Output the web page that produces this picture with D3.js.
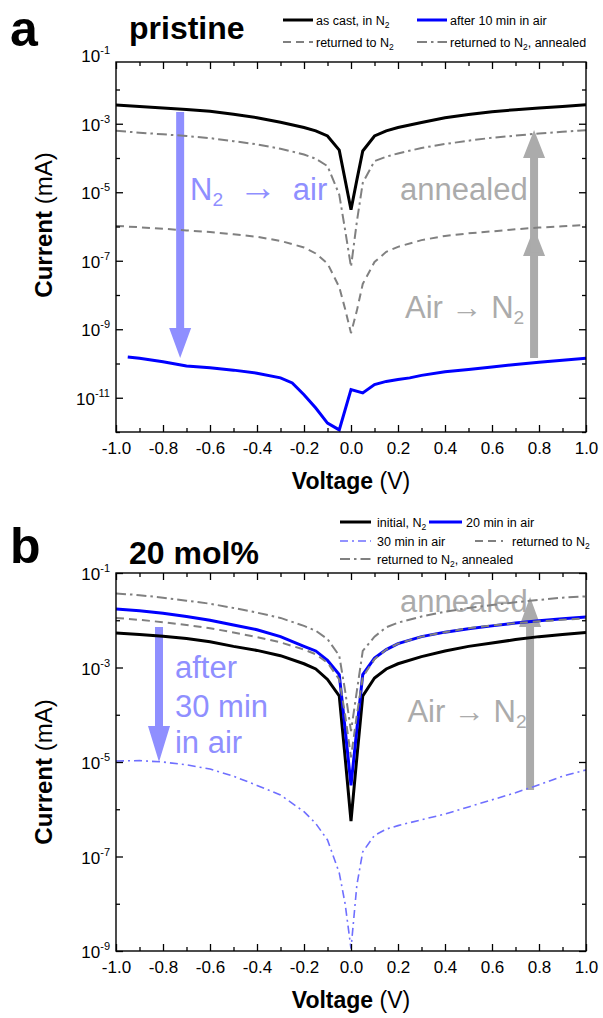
<!DOCTYPE html>
<html>
<head>
<meta charset="utf-8">
<script src="https://cdn.jsdelivr.net/npm/d3@7"></script>
<style>
  body { margin: 0; background: #fff; }
  svg { display: block; }
  text { font-family: "Liberation Sans", Arial, Helvetica, sans-serif; }
</style>
</head>
<body>
<svg id="fig" width="603" height="1018"></svg>
<script>
// ---------- data (current in mA) ----------
// Voltage sweep points shared by most traces (V)
const voltage = [-1, -0.9, -0.8, -0.7, -0.6, -0.5, -0.4, -0.3, -0.2, -0.15, -0.1, -0.05, -0.025, 0,
                 0.025, 0.05, 0.1, 0.15, 0.2, 0.3, 0.4, 0.5, 0.6, 0.7, 0.8, 0.9, 1];

// (a) pristine film
const pristineAsCast = [3.5e-3, 3.2e-3, 2.9e-3, 2.6e-3, 2.3e-3, 1.9e-3, 1.5e-3, 1.1e-3, 7.8e-4, 6.2e-4, 4.4e-4, 1.7e-4, 2.3e-5, 3.1e-6,
                        2.3e-5, 1.6e-4, 4.4e-4, 6.2e-4, 7.8e-4, 1.09e-3, 1.5e-3, 1.87e-3, 2.24e-3, 2.57e-3, 2.88e-3, 3.2e-3, 3.6e-3];
const pristineAirVoltage = [-0.95, -0.9, -0.8, -0.7, -0.6, -0.5, -0.4, -0.3, -0.25, -0.2, -0.15, -0.1, -0.05, 0,
                            0.05, 0.1, 0.15, 0.2, 0.25, 0.3, 0.4, 0.5, 0.6, 0.7, 0.8, 0.9, 1];
const pristineAir10 = [1.55e-10, 1.42e-10, 1.13e-10, 8.4e-11, 7.5e-11, 6.4e-11, 5.2e-11, 3.8e-11, 2.7e-11, 1.23e-11, 5.0e-12, 1.81e-12, 1.15e-12, 1.73e-11,
                       1.38e-11, 2.43e-11, 3.0e-11, 3.4e-11, 3.8e-11, 4.5e-11, 5.7e-11, 6.7e-11, 7.9e-11, 9.4e-11, 1.08e-10, 1.24e-10, 1.42e-10];
const pristineReturned = [1.04e-6, 9.5e-7, 8.6e-7, 7.7e-7, 6.9e-7, 5.9e-7, 5.0e-7, 3.8e-7, 2.44e-7, 1.63e-7, 8.3e-8, 1.7e-8, 3.9e-9, 7.7e-10,
                          3.5e-9, 2.1e-8, 9.2e-8, 1.82e-7, 2.55e-7, 4.0e-7, 5.3e-7, 6.3e-7, 7.2e-7, 8.3e-7, 9.3e-7, 1.01e-6, 1.11e-6];
const pristineAnnealed = [6.2e-4, 5.5e-4, 4.9e-4, 4.4e-4, 3.8e-4, 3.1e-4, 2.5e-4, 1.87e-4, 1.27e-4, 9.5e-5, 5.8e-5, 8.5e-6, 7.9e-7, 6.6e-8,
                          1.39e-6, 1.87e-5, 8.1e-5, 1.09e-4, 1.36e-4, 1.96e-4, 2.56e-4, 3.2e-4, 3.9e-4, 4.5e-4, 5.2e-4, 5.8e-4, 6.5e-4];

// (b) 20 mol% film
const dopedInitial = [5.4e-3, 5.0e-3, 4.6e-3, 4.1e-3, 3.5e-3, 2.8e-3, 2.3e-3, 1.78e-3, 1.2e-3, 9.3e-4, 5.6e-4, 2.5e-4, 1.26e-5, 5.6e-7,
                      1.26e-5, 2.5e-4, 6.0e-4, 9.3e-4, 1.2e-3, 1.7e-3, 2.24e-3, 2.8e-3, 3.3e-3, 3.9e-3, 4.5e-3, 5.0e-3, 5.5e-3];
const dopedAir20 = [1.74e-2, 1.58e-2, 1.41e-2, 1.2e-2, 1.0e-2, 7.9e-3, 6.3e-3, 4.5e-3, 2.8e-3, 2.24e-3, 1.41e-3, 7.1e-4, 5.0e-5, 3.2e-6,
                    5.0e-5, 7.1e-4, 1.58e-3, 2.4e-3, 3.2e-3, 4.5e-3, 5.6e-3, 6.6e-3, 7.6e-3, 8.7e-3, 9.8e-3, 1.07e-2, 1.17e-2];
const dopedAir30 = [1.05e-5, 1.07e-5, 1.0e-5, 8.7e-6, 7.1e-6, 5.0e-6, 3.2e-6, 2.0e-6, 8.9e-7, 5.0e-7, 2.24e-7, 4.5e-8, 1.0e-8, 1.12e-9,
                    2.5e-8, 1.26e-7, 2.8e-7, 3.8e-7, 4.5e-7, 6.0e-7, 7.9e-7, 1.12e-6, 1.58e-6, 2.24e-6, 3.3e-6, 5.0e-6, 6.8e-6];
const dopedReturned = [1.12e-2, 1.02e-2, 9.1e-3, 7.9e-3, 6.8e-3, 5.5e-3, 4.4e-3, 3.4e-3, 2.4e-3, 1.9e-3, 1.26e-3, 5.6e-4, 1.0e-4, 1.26e-5,
                       1.0e-4, 6.3e-4, 1.5e-3, 2.4e-3, 3.2e-3, 4.5e-3, 5.6e-3, 6.8e-3, 7.8e-3, 8.7e-3, 9.5e-3, 1.02e-2, 1.1e-2];
const dopedAnnealed = [3.7e-2, 3.4e-2, 3.0e-2, 2.6e-2, 2.24e-2, 1.82e-2, 1.45e-2, 1.12e-2, 7.6e-3, 6.0e-3, 4.0e-3, 1.78e-3, 3.2e-4, 4.5e-5,
                       3.2e-4, 2.24e-3, 4.5e-3, 7.1e-3, 8.9e-3, 1.2e-2, 1.51e-2, 1.82e-2, 2.1e-2, 2.4e-2, 2.7e-2, 3.0e-2, 3.2e-2];

// Axis ticks
const xMajorTicks = [-1, -0.8, -0.6, -0.4, -0.2, 0, 0.2, 0.4, 0.6, 0.8, 1];
const xMinorTicks = [-0.9, -0.7, -0.5, -0.3, -0.1, 0.1, 0.3, 0.5, 0.7, 0.9];
const yExponentsA = [-12, -11, -10, -9, -8, -7, -6, -5, -4, -3, -2, -1];
const yExponentsB = [-9, -8, -7, -6, -5, -4, -3, -2, -1];

// ---------- styling ----------
const C = {
  black: "#000000",
  blue: "#0000ff",
  gray: "#808080",
  lightBlue: "#6f6fff",
  arrowBlue: "#8f8fff",
  arrowGray: "#ababab"
};
const styles = {
  solidBlack: { stroke: C.black, width: 3, dash: null },
  solidBlue: { stroke: C.blue, width: 3, dash: null },
  dashGray: { stroke: C.gray, width: 2, dash: "8,5" },
  dashDotGray: { stroke: C.gray, width: 2, dash: "10,4,2.5,4" },
  dashDotBlue: { stroke: C.lightBlue, width: 1.6, dash: "8,4,2,4" }
};

const svg = d3.select("#fig");
const FONT = '"Liberation Sans", Arial, Helvetica, sans-serif';
const ARROW = "\u2192";
const EN = "\u2002";

function makePanel(cfg) {
  const g = svg.append("g");
  const x = d3.scaleLinear().domain([-1, 1]).range([cfg.left, cfg.right]);
  const y = d3.scaleLog().domain(cfg.yDomain).range([cfg.bottom, cfg.top]);
  const fmtX = v => { const r = Math.round(v * 10) / 10; return (r === 0 ? 0 : r).toFixed(1); };

  // arrows (under the traces)
  const arrowsG = g.append("g");
  cfg.arrows.forEach(a => {
    const xc = x(a.v), yb = y(a.from), yt = y(a.to);
    const dir = yt < yb ? -1 : 1;
    const sw = a.shaft / 2, hw = a.headW / 2, hl = a.headL;
    const yh = yt - dir * hl;
    const p = d3.path();
    p.moveTo(xc - sw, yb); p.lineTo(xc - sw, yh); p.lineTo(xc - hw, yh); p.lineTo(xc, yt);
    p.lineTo(xc + hw, yh); p.lineTo(xc + sw, yh); p.lineTo(xc + sw, yb); p.closePath();
    arrowsG.append("path").attr("d", p.toString()).attr("fill", a.color);
  });

  // annotation text
  cfg.notes.forEach(n => {
    const t = g.append("text").attr("x", x(n.v)).attr("y", y(n.at))
      .attr("font-size", n.size).attr("fill", n.color);
    n.parts.forEach(pt => {
      const s = t.append("tspan").text(pt.t);
      if (pt.sub) s.attr("font-size", n.size * 0.62).attr("dy", n.size * 0.2);
      if (pt.after) s.attr("dy", -n.size * 0.2);
      if (pt.scale) s.attr("font-size", n.size * pt.scale);
    });
  });

  // traces
  const clipId = "clip" + cfg.id;
  svg.append("clipPath").attr("id", clipId).append("rect")
    .attr("x", cfg.left).attr("y", cfg.top - 2).attr("width", cfg.right - cfg.left).attr("height", cfg.bottom - cfg.top + 3);
  const tracesG = g.append("g").attr("clip-path", `url(#${clipId})`);
  const line = d3.line().x(d => x(d[0])).y(d => y(d[1])).curve(d3.curveLinear);
  cfg.series.forEach(s => {
    const pts = s.v.map((v, i) => [v, s.i[i]]);
    tracesG.append("path").datum(pts).attr("d", line)
      .attr("fill", "none").attr("stroke", s.style.stroke).attr("stroke-width", s.style.width)
      .attr("stroke-dasharray", s.style.dash).attr("stroke-linejoin", "miter").attr("stroke-linecap", "butt");
  });

  // x axis (bottom labelled, top mirrored), ticks inside
  const xb = g.append("g").attr("transform", `translate(0,${cfg.bottom})`)
    .call(d3.axisBottom(x).tickValues(xMajorTicks).tickSize(-7).tickPadding(10).tickFormat(fmtX));
  xb.selectAll(".tick text").attr("font-size", 17).attr("font-family", FONT).attr("fill", "#000");
  g.append("g").attr("transform", `translate(0,${cfg.bottom})`)
    .call(d3.axisBottom(x).tickValues(xMinorTicks).tickSize(-4).tickFormat(""));
  g.append("g").attr("transform", `translate(0,${cfg.top})`)
    .call(d3.axisTop(x).tickValues(xMajorTicks).tickSize(-7).tickFormat(""));
  g.append("g").attr("transform", `translate(0,${cfg.top})`)
    .call(d3.axisTop(x).tickValues(xMinorTicks).tickSize(-4).tickFormat(""));

  // y axis: every decade ticked, odd exponents labelled
  const inRange = e => Math.pow(10, e) >= cfg.yDomain[0] * 0.999 && Math.pow(10, e) <= cfg.yDomain[1] * 1.001;
  const majors = cfg.yExp.filter(e => e % 2 !== 0 && inRange(e)).map(e => Math.pow(10, e));
  const minors = cfg.yExp.filter(e => e % 2 === 0 && inRange(e)).map(e => Math.pow(10, e));
  [["axisLeft", cfg.left], ["axisRight", cfg.right]].forEach(([fn, px]) => {
    g.append("g").attr("transform", `translate(${px},0)`)
      .call(d3[fn](y).tickValues(majors).tickSize(-7).tickFormat(""));
    g.append("g").attr("transform", `translate(${px},0)`)
      .call(d3[fn](y).tickValues(minors).tickSize(-4).tickFormat(""));
  });
  g.selectAll(".domain").remove();
  g.selectAll(".tick line").attr("stroke", "#000").attr("stroke-width", 1.3);

  // frame
  g.append("rect").attr("x", cfg.left).attr("y", cfg.top)
    .attr("width", cfg.right - cfg.left).attr("height", cfg.bottom - cfg.top)
    .attr("fill", "none").attr("stroke", "#000").attr("stroke-width", 1.4);

  // y tick labels 10^n
  cfg.yExp.filter(e => e % 2 !== 0).forEach(e => {
    const t = g.append("text").attr("x", cfg.left - 6).attr("y", y(Math.pow(10, e)) + 7)
      .attr("text-anchor", "end").attr("font-size", 17).attr("fill", "#000");
    t.append("tspan").text("10");
    t.append("tspan").text(String(e)).attr("font-size", 11).attr("dy", -8);
  });

  // axis titles
  const xt = g.append("text").attr("x", (cfg.left + cfg.right) / 2).attr("y", cfg.bottom + 57)
    .attr("text-anchor", "middle").attr("font-size", 23).attr("fill", "#000");
  xt.append("tspan").text("Voltage").attr("font-weight", "bold");
  xt.append("tspan").text(" (V)");
  const yt = g.append("text")
    .attr("transform", `translate(52,${cfg.yTitleAt}) rotate(-90)`)
    .attr("text-anchor", "middle").attr("font-size", 24).attr("fill", "#000");
  yt.append("tspan").text("Current").attr("font-weight", "bold");
  yt.append("tspan").text(" (mA)");

  // panel letter and sample name
  g.append("text").attr("x", 10).attr("y", cfg.letterY).attr("font-size", 50)
    .attr("font-weight", "bold").text(cfg.letter);
  g.append("text").attr("x", 129).attr("y", cfg.titleY).attr("font-size", 32)
    .attr("font-weight", "bold").text(cfg.title);

  // legend
  cfg.legend.forEach(it => {
    g.append("line").attr("x1", it.x).attr("x2", it.x + it.len).attr("y1", it.y).attr("y2", it.y)
      .attr("stroke", it.style.stroke).attr("stroke-width", it.style.width)
      .attr("stroke-dasharray", it.style.dash);
    const t = g.append("text").attr("x", it.x + it.len + it.gap).attr("y", it.y + 4.5)
      .attr("font-size", 12.5).attr("fill", "#000");
    it.label.forEach(pt => {
      const s = t.append("tspan").text(pt.t);
      if (pt.sub) s.attr("font-size", 8.5).attr("dy", 3);
      if (pt.after) s.attr("dy", -3);
    });
  });
}

const N2 = (pre, post) => [{ t: pre + "N" }, { t: "2", sub: true }].concat(post ? [{ t: post, after: true }] : []);

makePanel({
  id: "A", letter: "a", letterY: 46, title: "pristine", titleY: 39,
  left: 116, right: 586, top: 62, bottom: 432,
  yDomain: [1e-12, 0.0635], yExp: yExponentsA, yTitleAt: 225,
  series: [
    { v: voltage, i: pristineAsCast, style: styles.solidBlack },
    { v: pristineAirVoltage, i: pristineAir10, style: styles.solidBlue },
    { v: voltage, i: pristineReturned, style: styles.dashGray },
    { v: voltage, i: pristineAnnealed, style: styles.dashDotGray }
  ],
  arrows: [
    { v: -0.727, from: 2.2e-3, to: 1.45e-10, color: C.arrowBlue, shaft: 8, headW: 22, headL: 30 },
    { v: 0.779, from: 1.45e-10, to: 9.1e-7, color: C.arrowGray, shaft: 8, headW: 22, headL: 28 },
    { v: 0.779, from: 1.7e-7, to: 6.6e-4, color: C.arrowGray, shaft: 8, headW: 22, headL: 28 }
  ],
  notes: [
    { v: -0.685, at: 5.9e-6, size: 31, color: C.arrowBlue,
      parts: [{ t: "N" }, { t: "2", sub: true }, { t: EN, after: true }, { t: ARROW, scale: 1.25 }, { t: EN + "air" }] },
    { v: 0.209, at: 5.9e-6, size: 31, color: C.arrowGray, parts: [{ t: "annealed" }] },
    { v: 0.23, at: 2.1e-9, size: 31, color: C.arrowGray, parts: [{ t: "Air " + ARROW + " N" }, { t: "2", sub: true }] }
  ],
  legend: [
    { x: 283, y: 20, len: 30, gap: 3, style: styles.solidBlack, label: N2("as cast, in ") },
    { x: 417, y: 20, len: 30, gap: 3, style: styles.solidBlue, label: [{ t: "after 10 min in air" }] },
    { x: 283, y: 42, len: 30, gap: 3, style: styles.dashGray, label: N2("returned to ") },
    { x: 417, y: 42, len: 30, gap: 3, style: styles.dashDotGray, label: N2("returned to ", ", annealed") }
  ]
});

makePanel({
  id: "B", letter: "b", letterY: 563, title: "20 mol%", titleY: 564,
  left: 116, right: 586, top: 573, bottom: 951,
  yDomain: [1e-9, 1e-1], yExp: yExponentsB, yTitleAt: 772,
  series: [
    { v: voltage, i: dopedInitial, style: styles.solidBlack },
    { v: voltage, i: dopedAir20, style: styles.solidBlue },
    { v: voltage, i: dopedAir30, style: styles.dashDotBlue },
    { v: voltage, i: dopedReturned, style: styles.dashGray },
    { v: voltage, i: dopedAnnealed, style: styles.dashDotGray }
  ],
  arrows: [
    { v: -0.817, from: 7.2e-3, to: 1.0e-5, color: C.arrowBlue, shaft: 8, headW: 22, headL: 36 },
    { v: 0.762, from: 2.55e-6, to: 3.1e-2, color: C.arrowGray, shaft: 8, headW: 22, headL: 30 }
  ],
  notes: [
    { v: -0.749, at: 6.0e-4, size: 31, color: C.arrowBlue, parts: [{ t: "after" }] },
    { v: -0.749, at: 8.9e-5, size: 31, color: C.arrowBlue, parts: [{ t: "30 min" }] },
    { v: -0.749, at: 1.55e-5, size: 31, color: C.arrowBlue, parts: [{ t: "in air" }] },
    { v: 0.209, at: 1.5e-2, size: 31, color: C.arrowGray, parts: [{ t: "annealed" }] },
    { v: 0.24, at: 7.0e-5, size: 31, color: C.arrowGray, parts: [{ t: "Air " + ARROW + " N" }, { t: "2", sub: true }] }
  ],
  legend: [
    { x: 340, y: 522, len: 31, gap: 6, style: styles.solidBlack, label: N2("initial, ") },
    { x: 429, y: 522, len: 33, gap: 4, style: styles.solidBlue, label: [{ t: "20 min in air" }] },
    { x: 340, y: 541, len: 31, gap: 6, style: styles.dashDotBlue, label: [{ t: "30 min in air" }] },
    { x: 475, y: 541, len: 28, gap: 9, style: styles.dashGray, label: N2("returned to ") },
    { x: 340, y: 559, len: 31, gap: 6, style: styles.dashDotGray, label: N2("returned to ", ", annealed") }
  ]
});
</script>
</body>
</html>
